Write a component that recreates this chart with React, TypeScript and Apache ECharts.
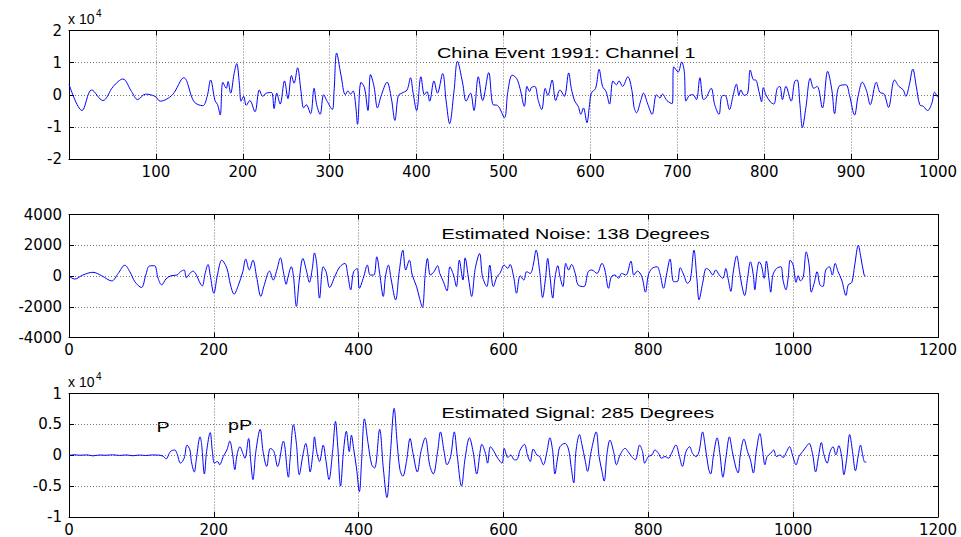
import React, { useEffect, useRef } from 'react';
import * as echarts from 'echarts';

// ---------- data ----------
const channel1: [number, number][] = [
  [0,3300],[15,-4900],[26,1500],[39,-1800],[51,2600],[62,4900],[72,1000],[79,-1500],[88,200],[99,-500],
  [105,-2000],[119,0],[132,5300],[144,-2200],[154,-3400],[159,-500],[163,4600],[168,-1800],[171,-3100],[174,-6300],
  [177,3900],[181,2000],[183,4100],[186,500],[190,6600],[193,9700],[196,3600],[198,-2000],[201,-500],[204,-3300],
  [208,-1800],[214,-5300],[219,1500],[223,-500],[227,500],[233,700],[236,-4300],[239,500],[243,-2900],[248,4300],
  [252,-1200],[256,6000],[259,3600],[263,8400],[267,1000],[270,-4100],[273,-3100],[278,-5900],[282,2000],[285,-3100],
  [289,-6100],[293,0],[297,-2000],[303,-4600],[305,1000],[308,13000],[313,6100],[318,0],[321,1200],[324,200],
  [327,1200],[330,-3600],[332,-9200],[336,3900],[340,2200],[344,-4900],[347,6300],[351,2600],[355,-4100],[359,-500],
  [366,3900],[371,-1200],[375,-8000],[379,-200],[383,500],[389,1500],[393,5300],[396,500],[400,-4900],[405,5600],
  [409,0],[412,1000],[415,-2000],[420,4300],[424,500],[430,6600],[434,-2000],[438,-9000],[443,1000],[447,10400],
  [453,3600],[457,-2000],[462,500],[466,-4900],[471,5600],[476,-1800],[483,6900],[488,-3100],[493,-3300],[501,-7100],
  [505,1000],[510,6100],[515,5100],[519,2000],[524,-3600],[527,2600],[530,1000],[532,2200],[536,2600],[540,-1800],
  [544,-4600],[548,2000],[551,-200],[556,4600],[560,-1800],[565,1500],[570,-500],[575,6800],[578,2000],[582,-2000],
  [586,-3600],[589,-6100],[592,-4100],[596,-8700],[599,-3100],[601,500],[606,2000],[610,7900],[614,2600],[618,1000],
  [622,-2900],[626,4300],[630,3100],[633,4300],[637,2600],[643,5600],[648,1000],[650,-3600],[653,-5600],[658,-1800],
  [661,500],[666,-2900],[671,-6100],[676,0],[680,-1000],[683,200],[688,-1800],[694,-2800],[696,8700],[701,7100],
  [705,10200],[708,7300],[710,-2000],[714,-200],[718,0],[722,-1500],[726,5300],[730,-1500],[733,-1000],[739,2000],
  [743,-3100],[748,-6100],[751,-500],[755,-200],[760,-4600],[764,-500],[768,3300],[771,-200],[773,1500],[777,-200],
  [781,500],[784,7700],[788,4600],[790,4600],[794,1000],[797,-2200],[799,2200],[802,0],[807,-2200],[811,-2900],
  [815,2000],[818,2600],[821,-1500],[825,2600],[831,-2000],[835,4100],[838,4600],[841,-2600],[844,-10200],[848,-3900],
  [853,5100],[857,2000],[861,2600],[867,-4100],[873,7300],[878,1200],[881,-5900],[886,2600],[894,3100],[898,0],
  [904,-6300],[908,-500],[913,3900],[918,1000],[922,-3100],[929,3900],[933,800],[938,200],[943,-3900],[950,4600],
  [955,2600],[960,1500],[963,-500],[967,3100],[971,8000],[975,2600],[979,-3100],[983,-3600],[988,-4900],[993,-2600],
  [996,800],[999,-500],[1000,-800]
];

const noise: [number, number][] = [
  [0,0],[8,-200],[19,60],[33,240],[45,20],[59,-320],[68,170],[77,700],[84,280],[91,-370],
  [100,-750],[106,60],[111,650],[118,670],[123,-150],[128,-580],[134,-190],[141,20],[149,60],[154,280],
  [159,390],[162,-110],[167,170],[171,320],[176,60],[180,-370],[184,-650],[188,170],[192,750],[195,60],
  [200,-1120],[205,60],[211,1030],[218,500],[223,-580],[228,-1180],[234,-580],[240,280],[244,1100],[249,390],
  [254,1030],[259,-40],[265,-1330],[269,-690],[277,320],[282,-260],[287,390],[292,1180],[296,280],[300,-540],
  [302,-150],[307,600],[310,-40],[314,-1980],[318,-260],[323,1140],[328,320],[332,-410],[336,490],[339,1500],
  [342,820],[346,-1440],[351,600],[355,280],[360,-750],[367,-40],[374,600],[381,820],[385,60],[389,-900],
  [393,280],[398,490],[401,-800],[407,-40],[412,710],[416,60],[421,60],[425,1250],[429,170],[434,-1330],
  [437,-40],[441,710],[445,-260],[451,-1550],[456,280],[461,1680],[465,390],[470,1030],[474,60],[480,-690],
  [484,-1440],[488,-2040],[492,170],[495,1140],[499,60],[504,280],[509,670],[512,170],[517,-370],[522,-970],
  [526,600],[531,60],[535,-690],[539,1030],[544,-260],[547,1180],[552,-260],[556,-1330],[561,490],[567,1460],
  [571,-40],[577,-690],[581,710],[586,-690],[591,-40],[595,170],[601,710],[606,490],[609,750],[614,-40],
  [618,-1120],[623,20],[628,-260],[632,280],[637,170],[641,710],[645,1680],[650,280],[654,-1400],[658,-150],
  [661,1140],[664,60],[668,-1440],[671,-150],[675,670],[678,-40],[682,-690],[686,820],[690,390],[694,750],
  [699,170],[703,-580],[711,-690],[717,280],[722,390],[729,170],[736,820],[740,390],[745,-800],[749,-40],
  [754,60],[759,-150],[763,170],[769,60],[776,970],[780,60],[785,320],[791,-40],[796,-1050],[800,60],
  [805,490],[812,600],[816,170],[821,-800],[825,60],[830,1100],[835,-370],[840,-370],[844,540],[849,60],
  [854,-470],[858,-260],[863,1680],[867,-150],[870,-1550],[875,-470],[880,490],[884,390],[889,60],[893,390],
  [898,60],[903,-150],[907,490],[910,-150],[914,-1000],[917,170],[922,1310],[926,280],[929,-580],[933,-1270],
  [937,-150],[941,920],[945,60],[947,-900],[950,280],[953,920],[956,710],[960,-150],[963,970],[967,-370],
  [969,-1050],[972,60],[977,490],[983,600],[986,-260],[990,-900],[993,-150],[996,1030],[1000,710],[1004,-410],
  [1007,20],[1010,-320],[1014,-40],[1018,1570],[1022,710],[1025,-1050],[1029,-470],[1033,280],[1037,-580],[1041,-690],
  [1045,390],[1050,600],[1054,60],[1058,820],[1062,280],[1067,-260],[1073,-1270],[1076,-580],[1081,-410],[1085,710],
  [1090,2000],[1093,1350],[1098,60],[1100,0]
];

const signal: [number, number][] = [
  [0,-50],[7,80],[15,0],[25,60],[33,-100],[42,40],[51,0],[60,70],[70,-30],[79,50],
  [88,-80],[97,30],[106,-40],[115,50],[124,20],[130,-150],[134,-590],[140,590],[146,850],[149,320],
  [154,-1280],[159,-480],[163,1650],[167,850],[169,-1010],[173,-2710],[176,-480],[181,2980],[183,1920],[187,-3030],
  [190,590],[195,3670],[198,590],[201,-1280],[205,-1010],[208,-1540],[213,-210],[218,850],[222,2290],[226,50],
  [229,-2340],[232,50],[236,1380],[240,320],[243,-480],[248,2710],[251,-1010],[254,-3940],[258,590],[264,4200],
  [268,590],[273,-1810],[278,1120],[283,590],[288,-1810],[296,2290],[303,-3560],[305,-1010],[310,4950],[314,1920],
  [318,-3140],[323,50],[327,1920],[330,50],[333,-2710],[337,590],[339,2980],[342,590],[346,-1010],[351,1650],
  [355,-1010],[359,-3940],[364,590],[368,5480],[371,1650],[375,-5000],[379,590],[383,3880],[387,590],[390,3250],
  [393,1120],[397,-2070],[401,-5900],[404,-1010],[408,5900],[413,1920],[418,-1540],[422,-2070],[429,4200],[434,-2070],
  [439,-6860],[444,590],[449,7600],[453,2180],[457,-2340],[461,-3400],[466,-1010],[471,2710],[475,320],[481,-2710],
  [486,590],[492,2820],[498,-1540],[503,-3030],[509,590],[513,3780],[518,590],[522,-1540],[527,-210],[532,3780],
  [536,50],[542,-5000],[547,-480],[553,2820],[558,590],[563,-3030],[568,850],[570,1760],[575,320],[578,-1280],
  [582,1380],[587,590],[592,-480],[598,-1280],[601,1120],[606,-370],[610,50],[615,-740],[618,-740],[623,850],
  [629,1760],[633,50],[637,-1010],[641,1010],[646,50],[650,-210],[655,-1540],[660,590],[664,2820],[668,590],
  [671,-3030],[675,-210],[678,1380],[685,1920],[690,850],[693,-1540],[697,-4470],[700,590],[705,3350],[708,1920],
  [713,-1010],[716,-2610],[721,590],[728,3780],[732,-210],[736,-2610],[739,-4200],[743,320],[747,2450],[752,590],
  [756,-1540],[761,50],[768,1120],[772,590],[777,-210],[782,-740],[788,1650],[792,590],[795,-1280],[800,-210],
  [805,50],[809,850],[814,320],[818,-480],[823,-210],[828,-480],[832,320],[838,1650],[843,-210],[847,-1810],
  [852,590],[857,1380],[861,320],[866,-210],[870,590],[875,3780],[878,1920],[883,-2070],[886,-3030],[890,50],
  [895,2820],[899,50],[903,-3560],[907,-480],[912,2980],[916,590],[921,-2070],[924,-2870],[927,50],[932,2610],
  [937,590],[941,-740],[945,-2870],[949,590],[954,3510],[958,590],[961,-1540],[964,-210],[969,320],[973,850],
  [977,-210],[982,50],[986,-370],[991,590],[995,1380],[999,50],[1004,-1540],[1008,-210],[1013,590],[1018,1380],
  [1022,1920],[1027,50],[1031,-2710],[1035,-210],[1039,2070],[1042,320],[1047,-1280],[1051,590],[1055,1380],[1059,50],
  [1063,1540],[1067,-210],[1070,-3140],[1074,-480],[1078,3350],[1082,590],[1086,-2500],[1090,50],[1093,1650],[1096,50],
  [1099,-1120],[1101,-1120]
];

const panelTitles = [
  'China Event 1991: Channel 1',
  'Estimated Noise: 138 Degrees',
  'Estimated Signal: 285 Degrees',
];
const phaseLabels = ['P', 'pP'];
const exponentBase = 'x 10';
const exponentPower = '4';

const xRanges = [
  { min: 0, max: 1000, interval: 100 },
  { min: 0, max: 1200, interval: 200 },
  { min: 0, max: 1200, interval: 200 },
];
const yRanges = [
  { min: -20000, max: 20000, interval: 10000, scale: 10000 },
  { min: -4000, max: 4000, interval: 2000, scale: 1 },
  { min: -10000, max: 10000, interval: 5000, scale: 10000 },
];
const seriesData = [channel1, noise, signal];

// ---------- layout ----------
const W = 961;
const H = 537;
const gridBoxes = [
  { top: 30.5, height: 128.5 },
  { top: 214.5, height: 123 },
  { top: 393.5, height: 123.5 },
];
const LEFT = 69;
const RIGHT = W - 938;
const TICK_FONT = 'DejaVu Sans';
const TEXT_FONT = 'Liberation Sans';
const STRETCH = 1.32;

function buildOption(): any {
  const grid: any[] = [];
  const xAxis: any[] = [];
  const yAxis: any[] = [];
  const series: any[] = [];
  const axisLine = { show: true, onZero: false, lineStyle: { color: '#000', width: 1 } };
  const axisTick = { show: true, inside: true, length: 5, lineStyle: { color: '#000', width: 1 } };
  const split = { show: true, lineStyle: { color: '#777', width: 1, type: [1, 2] } };

  for (let i = 0; i < 3; i++) {
    grid.push({ left: LEFT, right: RIGHT, top: gridBoxes[i].top, height: gridBoxes[i].height, containLabel: false });
    const xr = xRanges[i];
    const yr = yRanges[i];
    const first = i === 0;
    xAxis.push({
      type: 'value', gridIndex: i, position: 'bottom', min: xr.min, max: xr.max, interval: xr.interval,
      axisLine, axisTick, splitLine: split,
      axisLabel: {
        show: true, color: '#000', fontFamily: TICK_FONT, fontSize: 15, margin: 5,
        formatter: (v: number) => (first && v === 0 ? '' : String(v)),
      },
    });
    xAxis.push({
      type: 'value', gridIndex: i, position: 'top', min: xr.min, max: xr.max, interval: xr.interval,
      axisLine, axisTick, splitLine: { show: false }, axisLabel: { show: false },
    });
    yAxis.push({
      type: 'value', gridIndex: i, position: 'left', min: yr.min, max: yr.max, interval: yr.interval,
      axisLine, axisTick, splitLine: split,
      axisLabel: {
        show: true, color: '#000', fontFamily: TICK_FONT, fontSize: 15, margin: 7,
        formatter: (v: number) => String(Math.round((v / yr.scale) * 100) / 100),
      },
    });
    yAxis.push({
      type: 'value', gridIndex: i, position: 'right', min: yr.min, max: yr.max, interval: yr.interval,
      axisLine, axisTick, splitLine: { show: false }, axisLabel: { show: false },
    });
    series.push({
      type: 'line', xAxisIndex: i * 2, yAxisIndex: i * 2, data: seriesData[i],
      showSymbol: false, symbol: 'none', smooth: 0.35, silent: true,
      lineStyle: { color: '#0000ff', width: 1 },
    });
  }

  const textStyle = (text: string, size: number) => ({
    text, fill: '#000', font: `${size}px "${TEXT_FONT}"`, textAlign: 'left', textVerticalAlign: 'middle',
  });
  const graphic: any[] = [
    { type: 'text', x: 437, y: 52.5, scaleX: STRETCH, style: textStyle(panelTitles[0], 15) },
    { type: 'text', x: 441.5, y: 233.5, scaleX: STRETCH, style: textStyle(panelTitles[1], 15) },
    { type: 'text', x: 441.5, y: 412.5, scaleX: STRETCH, style: textStyle(panelTitles[2], 15) },
    { type: 'text', x: 156.5, y: 426.5, scaleX: STRETCH, style: textStyle(phaseLabels[0], 15) },
    { type: 'text', x: 228, y: 424.5, scaleX: STRETCH, style: textStyle(phaseLabels[1], 15) },
    { type: 'text', x: 68, y: 19, style: textStyle(exponentBase, 14) },
    { type: 'text', x: 96, y: 13, style: textStyle(exponentPower, 10) },
    { type: 'text', x: 68, y: 382, style: textStyle(exponentBase, 14) },
    { type: 'text', x: 96, y: 376, style: textStyle(exponentPower, 10) },
  ];

  return { animation: false, backgroundColor: '#fff', grid, xAxis, yAxis, series, graphic };
}

export default function App() {
  const ref = useRef<HTMLDivElement>(null);
  useEffect(() => {
    if (!ref.current) return;
    const chart = echarts.init(ref.current, undefined, { renderer: 'svg', width: W, height: H });
    chart.setOption(buildOption());
    return () => chart.dispose();
  }, []);
  return (
    <div
      ref={ref}
      style={{ position: 'fixed', left: 0, top: 0, width: W, height: H, background: '#fff' }}
    />
  );
}
